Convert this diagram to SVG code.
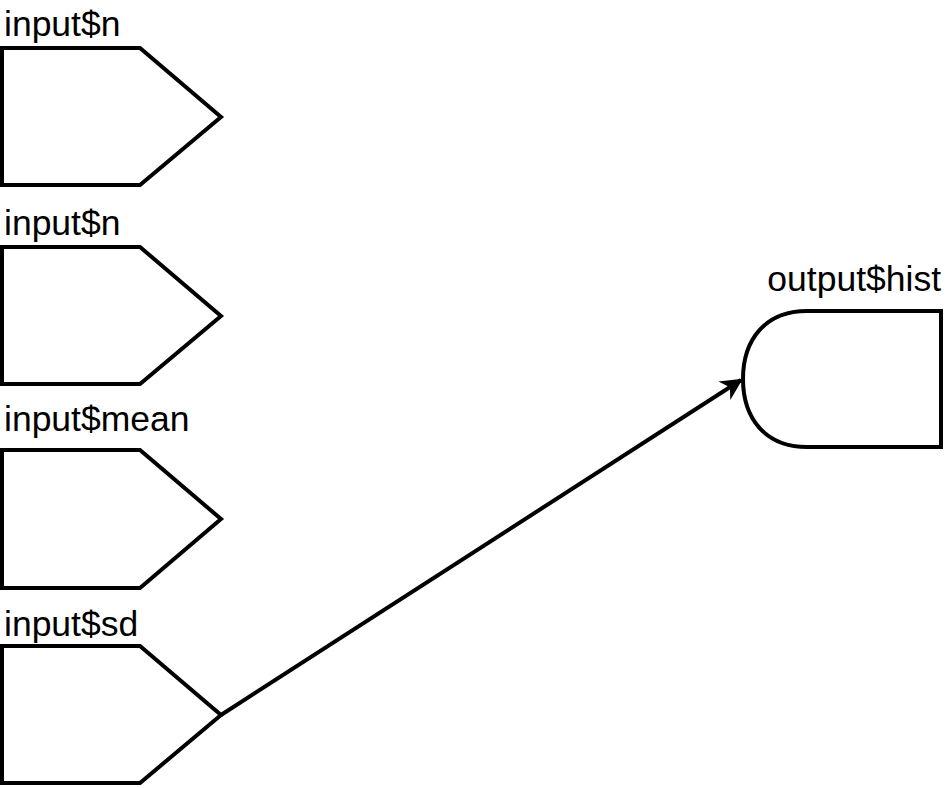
<svg xmlns="http://www.w3.org/2000/svg" width="945" height="788" viewBox="0 0 945 788">
<style>
.shape{fill:#fff;stroke:#000;stroke-width:4;stroke-linejoin:miter}
.lbl{font-family:"Liberation Sans",Arial,sans-serif;font-size:35.5px;fill:#000}
.conn{fill:none;stroke:#000;stroke-width:4}
</style>
<defs>
<marker id="arrow" viewBox="0 0 10 10" refX="9" refY="5" markerWidth="5.5" markerHeight="5.5" orient="auto" markerUnits="strokeWidth">
<path d="M0,0 L10,5 L0,10 L3,5 Z" fill="#000"/>
</marker>
</defs>
<rect width="945" height="788" fill="#fff"/>
<g id="input-n-1">
<path class="shape" d="M2,48 H140 L221,117 L140,185 H2 Z"/>
<text class="lbl" x="4" y="36">input$n</text>
</g>
<g id="input-n-2">
<path class="shape" d="M2,247 H140 L221,316 L140,384 H2 Z"/>
<text class="lbl" x="4" y="235">input$n</text>
</g>
<g id="input-mean">
<path class="shape" d="M2,450 H140 L221,519 L140,588 H2 Z"/>
<text class="lbl" x="4" y="431">input$mean</text>
</g>
<g id="input-sd">
<path class="shape" d="M2,646 H140 L221,715 L140,783 H2 Z"/>
<text class="lbl" x="4" y="636">input$sd</text>
</g>
<g id="output-hist">
<path class="shape" d="M941,311 H807 C765,311 743,340 743,379 C743,418 765,447 807,447 H941 Z"/>
<text class="lbl" x="941" y="291" text-anchor="end">output$hist</text>
</g>
<g id="connectors">
<path class="conn" d="M221,715 L741,380" marker-end="url(#arrow)"/>
</g>
</svg>
